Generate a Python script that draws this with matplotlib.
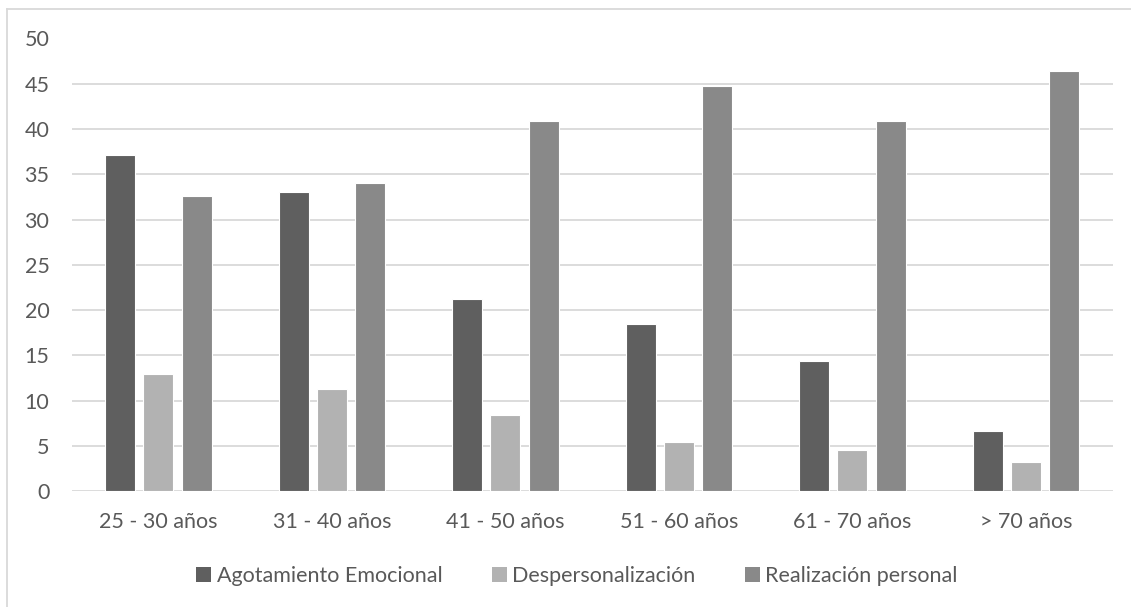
"""
Burnout dimensions by age group — grouped bar chart.
"""

import matplotlib
matplotlib.use("Agg")
import matplotlib.pyplot as plt
import numpy as np
from matplotlib.patches import Patch
from matplotlib.lines import Line2D

plt.rcParams["font.family"] = ["Lato", "DejaVu Sans"]

age_groups = ["25 - 30 años", "31 - 40 años", "41 - 50 años",
              "51 - 60 años", "61 - 70 años", "> 70 años"]
series_names = ["Agotamiento Emocional", "Despersonalización", "Realización personal"]
agotamiento = [37.1, 33.1, 21.2, 18.5, 14.4, 6.7]
despersonalizacion = [13.0, 11.3, 8.4, 5.4, 4.6, 3.2]
realizacion = [32.6, 34.0, 40.9, 44.8, 40.9, 46.4]

colors = ["#5f5f5f", "#b2b2b2", "#898989"]
text_color = "#595959"
grid_color = "#d9d9d9"

W, H = 1131, 607
fig = plt.figure(figsize=(W / 100, H / 100), dpi=100)
ax = fig.add_axes([71.7 / W, 1 - 491.3 / H, (1112.7 - 71.7) / W, (491.3 - 38.5) / H])

x = np.arange(len(age_groups))
width = 0.173
step = 0.221
for i, (vals, c) in enumerate(zip([agotamiento, despersonalizacion, realizacion], colors)):
    ax.bar(x + (i - 1) * step, vals, width, color=c, edgecolor="white",
           linewidth=0.8, zorder=3)

ax.set_xlim(-0.5, len(age_groups) - 0.5)
ax.set_ylim(0, 50)
ax.set_yticks(range(0, 51, 5))
ax.set_xticks(x)
ax.set_xticklabels(age_groups)
ax.yaxis.grid(True, color=grid_color, linewidth=1.3, zorder=0)
ax.set_axisbelow(True)
for s in ax.spines.values():
    s.set_visible(False)
ax.tick_params(axis="both", length=0, labelsize=15.5, colors=text_color)
ax.tick_params(axis="y", pad=16)
ax.tick_params(axis="x", pad=15)

handles = [Patch(facecolor=c, edgecolor="none") for c in colors]
fig.legend(handles, series_names, loc="center", bbox_to_anchor=(577 / W, 1 - 576 / H),
           ncol=3, frameon=False, fontsize=15.5, labelcolor=text_color,
           handlelength=0.7, handleheight=0.7, handletextpad=0.25,
           columnspacing=2.3)

# chart area border (top and left visible in the crop)
fig.add_artist(Line2D([7 / W, 1.0], [1 - 9.3 / H] * 2, color=grid_color, linewidth=1.3))
fig.add_artist(Line2D([7 / W] * 2, [0.0, 1 - 9.3 / H], color=grid_color, linewidth=1.3))

fig.savefig("out.png", dpi=100, facecolor="white")
